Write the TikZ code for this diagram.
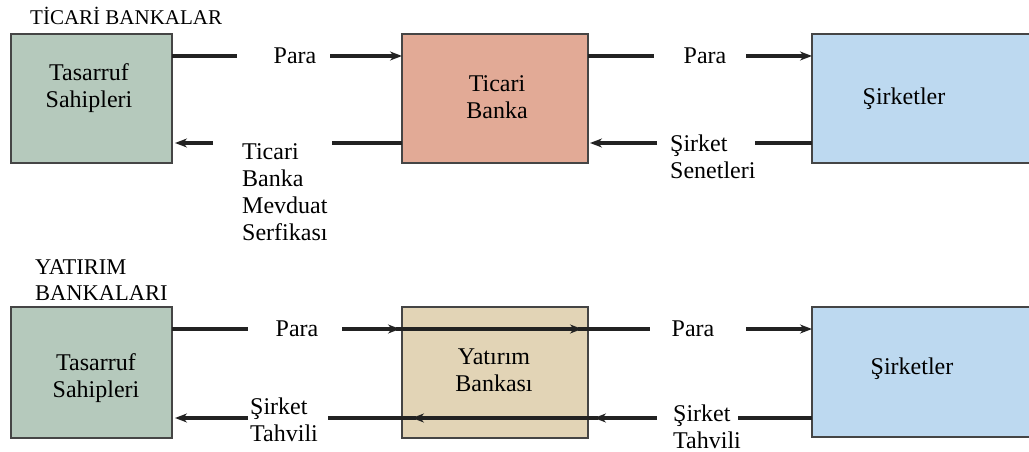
\documentclass[tikz,border=0pt]{standalone}
\usepackage{fontspec}
\setmainfont{Liberation Serif}
\newfontfamily\labelfont{Liberation Serif}
\usetikzlibrary{arrows.meta}
\definecolor{savercol}{HTML}{B5C9BC}
\definecolor{bankcol}{HTML}{E2AA96}
\definecolor{firmcol}{HTML}{BDD9F0}
\definecolor{invcol}{HTML}{E2D4B6}
\definecolor{edgecol}{HTML}{454545}
\definecolor{flowcol}{HTML}{222222}
\begin{document}
\begin{tikzpicture}[x=1pt,y=-1pt,
  box/.style={draw=edgecol,line width=1.4pt,rectangle,inner sep=0pt,outer sep=0pt,
    minimum height=129pt,anchor=north west},
  body/.style={inner sep=0pt,font=\labelfont\fontsize{24}{27}\selectfont},
  title/.style={inner sep=0pt,align=left,anchor=west},
  ln/.style={draw=flowcol,line width=3.2pt},
  ar/.style={ln,-{Stealth[length=12pt,width=9pt]}}]
\useasboundingbox (0,0) rectangle (1029,452);

% section titles
\node[title,font=\labelfont\fontsize{21}{24}\selectfont] (t1) at (30,16) {TİCARİ BANKALAR};
\node[title,font=\labelfont\fontsize{22.5}{26}\selectfont] (t2) at (35,280) {YATIRIM\\BANKALARI};

% commercial bank row
\node[box,fill=savercol,minimum width=161pt] (s1) at (11,34) {};
\node[box,fill=bankcol,minimum width=186pt] (b1) at (402,34) {};
\node[box,fill=firmcol,minimum width=230pt] (f1) at (812,34) {};
\node[body,align=center] (s1t) at (89,88) {Tasarruf\\Sahipleri};
\node[body,align=center] (b1t) at (497,97) {Ticari\\Banka};
\node[body] (f1t) at (904,99) {Şirketler};

% investment bank row
\node[box,fill=savercol,minimum width=161pt,minimum height=131pt] (s2) at (11,307) {};
\node[box,fill=invcol,minimum width=186pt,minimum height=131pt] (b2) at (402,307) {};
\node[box,fill=firmcol,minimum width=230pt,minimum height=130pt] (f2) at (812,307) {};
\node[body,align=center] (s2t) at (96,378) {Tasarruf\\Sahipleri};
\node[body,align=center] (b2t) at (494,370) {Yatırım\\Bankası};
\node[body] (f2t) at (912,369) {Şirketler};

% flow labels, top row
\node[body] (p1) at (295,56) {Para};
\node[body] (p2) at (705,56) {Para};
\node[body,align=left,anchor=west] (m1) at (242,192) {Ticari\\Banka\\Mevduat\\Serfikası};
\node[body,align=left,anchor=west] (n1) at (670,157) {Şirket\\Senetleri};

% flow labels, bottom row
\node[body] (p3) at (297,329) {Para};
\node[body] (p4) at (693,329) {Para};
\node[body,align=left,anchor=west] (h1) at (250,420) {Şirket\\Tahvili};
\node[body,align=left,anchor=west] (h2) at (673,427) {Şirket\\Tahvili};

% line ends, top row
\coordinate (a1) at (237,56);
\coordinate (a2) at (330,56);
\coordinate (a3) at (654,56);
\coordinate (a4) at (746,56);
\coordinate (c1) at (213,143);
\coordinate (c2) at (332,143);
\coordinate (c3) at (657,143);
\coordinate (c4) at (755,143);

% top row flows
\draw[ln] (s1.east|-a1) -- (a1);
\draw[ar] (a2) -- (b1.west|-a2);
\draw[ln] (b1.east|-a3) -- (a3);
\draw[ar] (a4) -- (f1.west|-a4);
\draw[ar] (c1) -- ([xshift=3pt]s1.east|-c1);
\draw[ln] (c2) -- (b1.west|-c2);
\draw[ar] (c3) -- ([xshift=2pt]b1.east|-c3);
\draw[ln] (c4) -- (f1.west|-c4);

% line ends, bottom row
\coordinate (d1) at (248,329);
\coordinate (d2) at (342,329);
\coordinate (d3) at (582,329);
\coordinate (d4) at (650,329);
\coordinate (d5) at (746,329);
\coordinate (e1) at (248,418);
\coordinate (e2) at (328,418);
\coordinate (e3) at (412,418);
\coordinate (e4) at (594,418);
\coordinate (e5) at (657,418);
\coordinate (e6) at (738,418);

% bottom row flows, running across the investment bank
\draw[ln] (s2.east|-d1) -- (d1);
\draw[ar] (d2) -- ([xshift=-2pt]b2.west|-d2);
\draw[ar] ([xshift=-6pt]b2.west|-d2) -- (d3);
\draw[ln] ([xshift=-4pt]d3) -- (d4);
\draw[ar] (d5) -- (f2.west|-d5);
\draw[ar] (e1) -- ([xshift=3pt]s2.east|-e1);
\draw[ar] (e5) -- (e4);
\draw[ar] ([xshift=4pt]e4) -- (e3);
\draw[ln] ([xshift=4pt]e3) -- (e2);
\draw[ln] (e6) -- (f2.west|-e6);
\end{tikzpicture}
\end{document}
